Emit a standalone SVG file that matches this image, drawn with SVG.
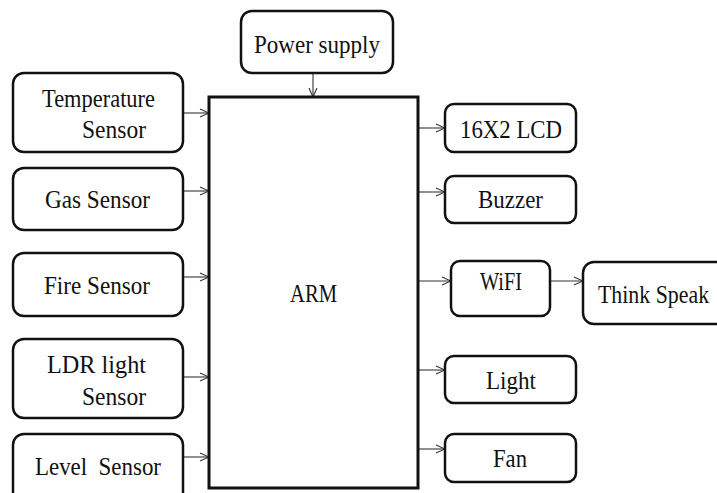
<svg xmlns="http://www.w3.org/2000/svg" width="717" height="493" viewBox="0 0 717 493">
<defs>
<marker id="arr" viewBox="0 0 10 10" refX="10" refY="5" markerWidth="10" markerHeight="10" markerUnits="userSpaceOnUse" orient="auto">
<path d="M1,1 L10,5 L1,9" fill="none" stroke="#333" stroke-width="1.1"/>
</marker>
<style>
.box{fill:#fff;stroke:#111;stroke-width:2.5}
.arm{fill:#fff;stroke:#111;stroke-width:3}
.t{font-size:25px;fill:#111}
.c{fill:none;stroke:#333;stroke-width:1.1;marker-end:url(#arr)}
</style>
</defs>
<rect width="717" height="493" fill="#fff"/>
<g id="connectors">
<line class="c" x1="313" y1="73" x2="313" y2="97"/>
<line class="c" x1="183" y1="113" x2="209" y2="113"/>
<line class="c" x1="183" y1="191" x2="209" y2="191"/>
<line class="c" x1="183" y1="277" x2="209" y2="277"/>
<line class="c" x1="183" y1="377" x2="209" y2="377"/>
<line class="c" x1="183" y1="457" x2="209" y2="457"/>
<line class="c" x1="418" y1="128" x2="445" y2="128"/>
<line class="c" x1="418" y1="192" x2="445" y2="192"/>
<line class="c" x1="418" y1="281" x2="451" y2="281"/>
<line class="c" x1="550" y1="281" x2="583" y2="281"/>
<line class="c" x1="418" y1="370" x2="445" y2="370"/>
<line class="c" x1="418" y1="449" x2="445" y2="449"/>
</g>
<g font-family="Liberation Serif, DejaVu Serif, serif">
<g id="power">
<rect class="box" x="241" y="11" width="152" height="62" rx="11"/>
<text class="t" x="254" y="53" textLength="126" lengthAdjust="spacingAndGlyphs">Power supply</text>
</g>
<g id="arm">
<rect class="arm" x="209" y="97" width="209" height="391"/>
<text class="t" x="290" y="302" textLength="47" lengthAdjust="spacingAndGlyphs">ARM</text>
</g>
<g id="temp">
<rect class="box" x="13" y="73" width="170" height="79" rx="11"/>
<text class="t" x="42" y="107" textLength="113" lengthAdjust="spacingAndGlyphs">Temperature</text>
<text class="t" x="82" y="138" textLength="64" lengthAdjust="spacingAndGlyphs">Sensor</text>
</g>
<g id="gas">
<rect class="box" x="13" y="168" width="170" height="62" rx="11"/>
<text class="t" x="45" y="208" textLength="105" lengthAdjust="spacingAndGlyphs">Gas Sensor</text>
</g>
<g id="fire">
<rect class="box" x="13" y="253" width="170" height="63" rx="11"/>
<text class="t" x="44" y="294" textLength="106" lengthAdjust="spacingAndGlyphs">Fire Sensor</text>
</g>
<g id="ldr">
<rect class="box" x="13" y="339" width="170" height="79" rx="11"/>
<text class="t" x="47" y="373" textLength="99" lengthAdjust="spacingAndGlyphs">LDR light</text>
<text class="t" x="82" y="405" textLength="64" lengthAdjust="spacingAndGlyphs">Sensor</text>
</g>
<g id="level">
<rect class="box" x="13" y="434" width="170" height="70" rx="11"/>
<text class="t" x="35" y="475" textLength="126" lengthAdjust="spacingAndGlyphs" xml:space="preserve">Level  Sensor</text>
</g>
<g id="lcd">
<rect class="box" x="445" y="104" width="131" height="48" rx="9"/>
<text class="t" x="460" y="138" textLength="102" lengthAdjust="spacingAndGlyphs">16X2 LCD</text>
</g>
<g id="buzzer">
<rect class="box" x="445" y="176" width="131" height="47" rx="9"/>
<text class="t" x="478" y="208" textLength="65" lengthAdjust="spacingAndGlyphs">Buzzer</text>
</g>
<g id="wifi">
<rect class="box" x="451" y="261" width="99" height="55" rx="9"/>
<text class="t" x="480" y="290" textLength="42" lengthAdjust="spacingAndGlyphs">WiFI</text>
</g>
<g id="thinkspeak">
<rect class="box" x="583" y="262" width="150" height="62" rx="11"/>
<text class="t" transform="translate(598,303) scale(0.875,1)" x="0" y="0">Think Speak</text>
</g>
<g id="light">
<rect class="box" x="445" y="356" width="131" height="47" rx="9"/>
<text class="t" x="486" y="389" textLength="50" lengthAdjust="spacingAndGlyphs">Light</text>
</g>
<g id="fan">
<rect class="box" x="445" y="434" width="131" height="48" rx="9"/>
<text class="t" x="493" y="467" textLength="34" lengthAdjust="spacingAndGlyphs">Fan</text>
</g>
</g>
</svg>
